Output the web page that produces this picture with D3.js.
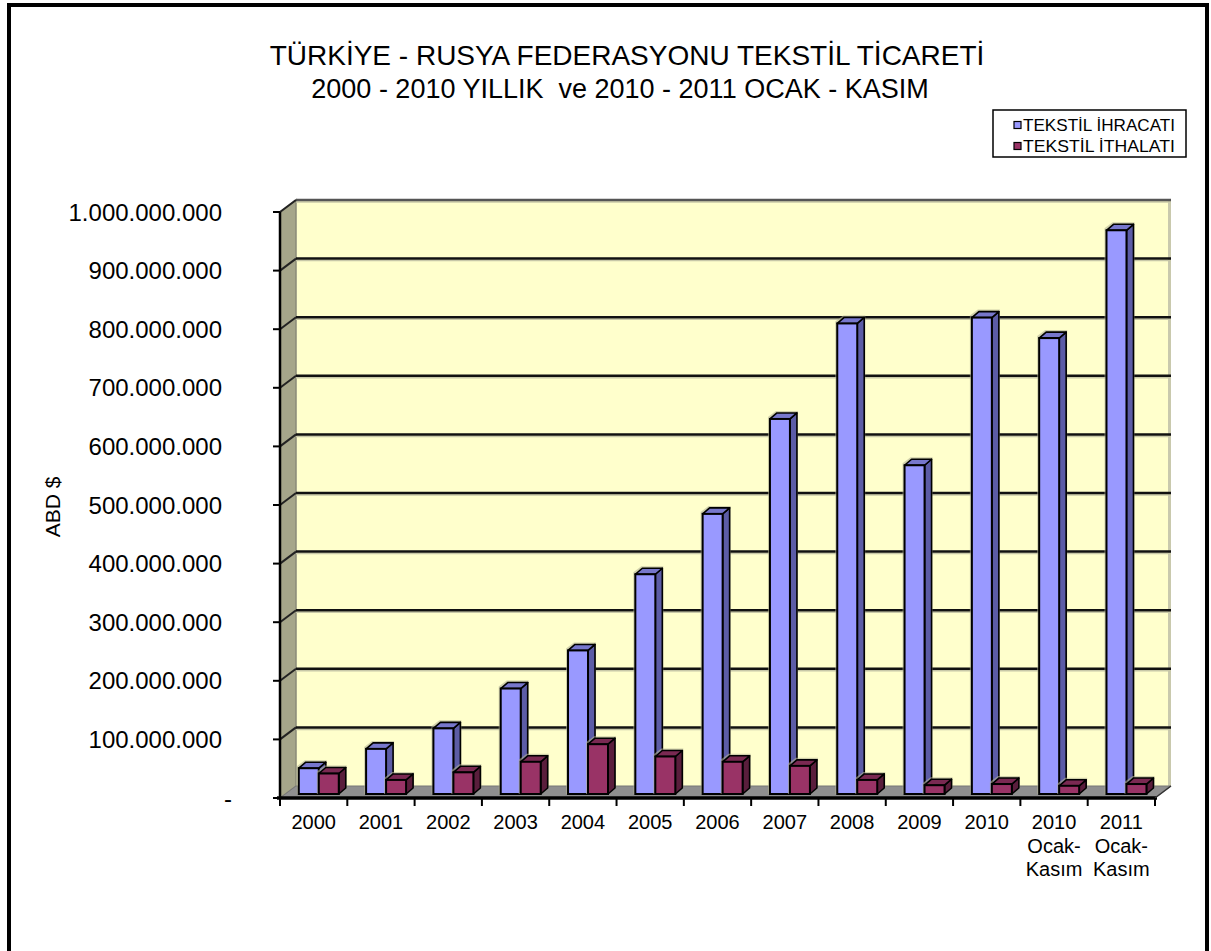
<!DOCTYPE html>
<html>
<head>
<meta charset="utf-8">
<script src="https://cdn.jsdelivr.net/npm/d3@7"></script>
<style>
  html, body { margin: 0; padding: 0; background: #fff; }
  svg { display: block; }
  text { font-family: "Liberation Sans", Arial, sans-serif; fill: #000; white-space: pre; }
</style>
</head>
<body>
<svg id="chart" width="1211" height="951"></svg>
<script>
// ---- data ----
const categories = ["2000","2001","2002","2003","2004","2005","2006","2007","2008","2009","2010","2010\nOcak-\nKasım","2011\nOcak-\nKasım"];
const exportValues = [44e6, 77e6, 112e6, 180e6, 245e6, 375e6, 478e6, 640e6, 803e6, 561e6, 813e6, 778e6, 962e6];
const importValues = [35e6, 24e6, 37e6, 55e6, 85e6, 64e6, 55e6, 48e6, 24e6, 15e6, 17e6, 14e6, 17e6];
const seriesNames = ["TEKSTİL İHRACATI", "TEKSTİL İTHALATI"];
const yTickValues = [0, 1e8, 2e8, 3e8, 4e8, 5e8, 6e8, 7e8, 8e8, 9e8, 1e9];
const titleLines = ["TÜRKİYE - RUSYA FEDERASYONU TEKSTİL TİCARETİ", "2000 - 2010 YILLIK  ve 2010 - 2011 OCAK - KASIM"];
const yAxisTitle = "ABD $";

// ---- layout ----
const svg = d3.select("#chart");
const X0 = 280, X1 = 1155, Y0 = 798, Y1 = 212;
const WDX = 16, WDY = -12;          // wall depth
const BOX = 5.33, BOY = -4;          // bar front offset into depth
const BDX = 7, BDY = -6;             // bar depth

const x = d3.scaleBand().domain(categories).range([X0, X1]);
const y = d3.scaleLinear().domain([0, 1e9]).range([Y0, Y1]);

// border
svg.append("rect").attr("x", 9).attr("y", 5).attr("width", 1198).attr("height", 960)
  .attr("fill", "#fff").attr("stroke", "#000").attr("stroke-width", 4);

// title
svg.append("text").attr("x", 627).attr("y", 65).attr("text-anchor", "middle")
  .attr("font-size", 28).text(titleLines[0]);
svg.append("text").attr("x", 620).attr("y", 98).attr("text-anchor", "middle")
  .attr("font-size", 27).text(titleLines[1]);

// back wall
svg.append("rect").attr("x", X0 + WDX).attr("y", Y1 + WDY)
  .attr("width", X1 - X0).attr("height", Y0 - Y1)
  .attr("fill", "#ffffcc");
svg.append("rect").attr("x", X1 + WDX - 3).attr("y", Y1 + WDY)
  .attr("width", 3).attr("height", Y0 - Y1)
  .attr("fill", "#c9c9ad");

// left wall
svg.append("polygon")
  .attr("points", [[X0, Y0], [X0, Y1], [X0 + WDX, Y1 + WDY], [X0 + WDX, Y0 + WDY]].map(p => p.join(",")).join(" "))
  .attr("fill", "#a6a68a").attr("stroke", "#8a8a78").attr("stroke-width", 1.5);

// floor
svg.append("polygon")
  .attr("points", [[X0, Y0], [X1, Y0], [X1 + WDX, Y0 + WDY], [X0 + WDX, Y0 + WDY]].map(p => p.join(",")).join(" "))
  .attr("fill", "#8f8f8f").attr("stroke", "#777").attr("stroke-width", 1);

// gridlines
const grid = svg.append("g");
yTickValues.filter(v => v > 0).forEach(v => {
  const yb = y(v) + WDY;
  grid.append("line").attr("x1", X0 + WDX).attr("x2", X1 + WDX)
    .attr("y1", yb + 2).attr("y2", yb + 2).attr("stroke", "#c8c8a8").attr("stroke-width", 1.5);
  grid.append("line").attr("x1", X0 + WDX).attr("x2", X1 + WDX)
    .attr("y1", yb).attr("y2", yb).attr("stroke", v === 1e9 ? "#555" : "#111").attr("stroke-width", 2.5);
  grid.append("line").attr("x1", X0).attr("x2", X0 + WDX)
    .attr("y1", y(v)).attr("y2", yb).attr("stroke", "#222").attr("stroke-width", 2);
});

// bars
const bars = svg.append("g");
const bw = x.bandwidth();
function drawBar(cat, v, slot, cFront, cTop, cSide) {
  const x0 = x(cat) + BOX + bw * 0.2 + slot * bw * 0.297;
  const w = bw * 0.297;
  const yb = y(0) + BOY, yt = y(v) + BOY;
  const pts = a => a.map(p => p.join(",")).join(" ");
  bars.append("polygon")
    .attr("points", pts([[x0 - 2, yb], [x0 - 2, yt - 2], [x0 + BDX - 1, yt + BDY - 2], [x0 + w + BDX + 1, yt + BDY - 2], [x0 + w + BDX + 1, yb + BDY], [x0 + w, yb]]))
    .attr("fill", "#b3b394").attr("opacity", 0.6);
  bars.append("polygon")
    .attr("points", pts([[x0 + w, yt], [x0 + w + BDX, yt + BDY], [x0 + w + BDX, yb + BDY], [x0 + w, yb]]))
    .attr("fill", cSide).attr("stroke", "#000").attr("stroke-width", 1.6).attr("stroke-linejoin", "round");
  bars.append("polygon")
    .attr("points", pts([[x0, yt], [x0 + w, yt], [x0 + w + BDX, yt + BDY], [x0 + BDX, yt + BDY]]))
    .attr("fill", cTop).attr("stroke", "#000").attr("stroke-width", 1.6).attr("stroke-linejoin", "round");
  bars.append("rect").attr("x", x0).attr("y", yt).attr("width", w).attr("height", yb - yt)
    .attr("fill", cFront).attr("stroke", "#000").attr("stroke-width", 2);
}
categories.forEach((c, i) => {
  drawBar(c, exportValues[i], 0, "#9999ff", "#7777cc", "#5c5ca6");
  drawBar(c, importValues[i], 1, "#993366", "#7a2952", "#5a1e3c");
});

// front floor edge / x axis
svg.append("line").attr("x1", X0 - 3).attr("x2", X1 + 2).attr("y1", Y0).attr("y2", Y0)
  .attr("stroke", "#000").attr("stroke-width", 3.5);
svg.append("line").attr("x1", X1).attr("x2", X1 + WDX).attr("y1", Y0).attr("y2", Y0 + WDY)
  .attr("stroke", "#333").attr("stroke-width", 1.5);
const xTicks = categories.map(c => x(c)).concat([X1]);
xTicks.forEach(t => {
  svg.append("line").attr("x1", t).attr("x2", t).attr("y1", Y0).attr("y2", Y0 + 8)
    .attr("stroke", "#000").attr("stroke-width", 2);
});

// x labels
categories.forEach(c => {
  const lines = c.split("\n");
  const t = svg.append("text").attr("x", x(c) + bw / 2).attr("y", 829)
    .attr("text-anchor", "middle").attr("font-size", 20);
  lines.forEach((l, i) => t.append("tspan").attr("x", x(c) + bw / 2).attr("dy", i === 0 ? 0 : 23.5).text(l));
});

// y axis
svg.append("line").attr("x1", X0).attr("x2", X0).attr("y1", Y1).attr("y2", Y0)
  .attr("stroke", "#000").attr("stroke-width", 2.5);
const fmt = v => v === 0 ? "-" : d3.format(",")(v).replace(/,/g, ".");
yTickValues.forEach(v => {
  svg.append("line").attr("x1", X0 - 7).attr("x2", X0).attr("y1", y(v)).attr("y2", y(v))
    .attr("stroke", "#000").attr("stroke-width", 2);
  svg.append("text").attr("x", v === 0 ? 232 : 222).attr("y", y(v)).attr("dy", "0.36em")
    .attr("text-anchor", "end").attr("font-size", 24).text(fmt(v));
});
svg.append("text").attr("transform", "translate(60,507) rotate(-90)")
  .attr("text-anchor", "middle").attr("font-size", 21).text(yAxisTitle);

// legend
const lg = svg.append("g");
lg.append("rect").attr("x", 993).attr("y", 110).attr("width", 193).attr("height", 47)
  .attr("fill", "#fff").attr("stroke", "#000").attr("stroke-width", 1.5);
const legColors = ["#9999ff", "#993366"];
seriesNames.forEach((s, i) => {
  const cy = 125 + i * 21;
  lg.append("rect").attr("x", 1014).attr("y", cy - 3.5).attr("width", 7).attr("height", 7)
    .attr("fill", legColors[i]).attr("stroke", "#000").attr("stroke-width", 1.2);
  lg.append("text").attr("x", 1023).attr("y", cy).attr("dy", "0.36em")
    .attr("font-size", 17).attr("textLength", 152).attr("lengthAdjust", "spacingAndGlyphs").text(s);
});
</script>
</body>
</html>
